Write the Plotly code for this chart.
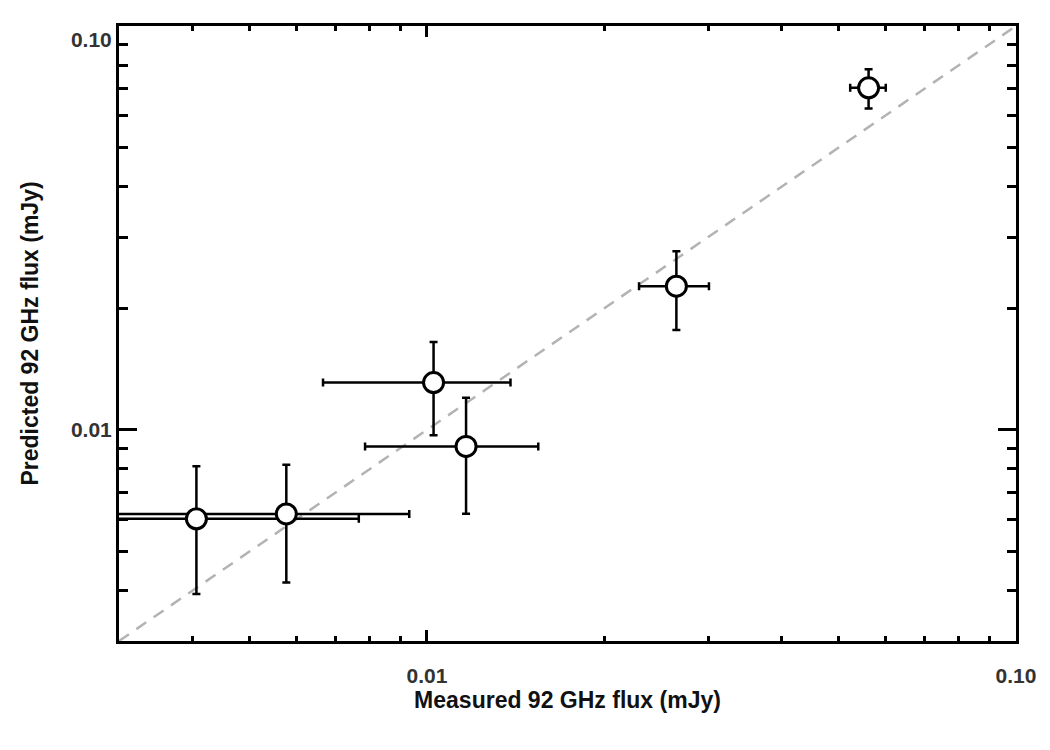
import plotly.graph_objects as go

measured = [0.00406, 0.00577, 0.01026, 0.01165, 0.02651, 0.0562]
measured_err = [0.0036, 0.00356, 0.0036, 0.0038, 0.0036, 0.0039]
predicted = [0.00602, 0.00619, 0.01309, 0.0091, 0.02268, 0.0703]
predicted_err = [0.0021, 0.002, 0.0034, 0.0029, 0.005, 0.0078]

axis_range = [0.003, 0.1]
major_vals = [0.01, 0.1]
x_major_text = ["0.01", "0.10"]
y_major_text = ["0.01", " <br>0.10"]
minor_vals = [0.003, 0.004, 0.005, 0.006, 0.007, 0.008, 0.009,
              0.02, 0.03, 0.04, 0.05, 0.06, 0.07, 0.08, 0.09]

fig = go.Figure()
fig.add_trace(go.Scatter(
    x=axis_range, y=axis_range, mode="lines",
    line=dict(color="#b3b3b3", width=2.5, dash="12px,9px"),
    showlegend=False, hoverinfo="skip"))
fig.add_trace(go.Scatter(
    x=measured, y=predicted, mode="markers",
    marker=dict(symbol="circle", size=20, color="white",
                line=dict(color="black", width=3)),
    error_x=dict(type="data", array=measured_err, color="black", thickness=2.5, width=4),
    error_y=dict(type="data", array=predicted_err, color="black", thickness=2.5, width=4),
    showlegend=False))

tickfont = dict(family="Liberation Sans", size=21, color="#333333", weight="bold")
titlefont = dict(family="Liberation Sans", size=23, color="#111111", weight="bold")

common = dict(type="log", showgrid=False, zeroline=False,
              showline=True, linecolor="black", linewidth=3, mirror="ticks",
              ticks="inside", tickwidth=3, tickcolor="black",
              tickvals=major_vals, tickfont=tickfont, automargin=False)

fig.update_xaxes(range=[-2.5229, -1.0], ticklen=11, ticktext=x_major_text,
                 ticklabelstandoff=14,
                 minor=dict(tickvals=minor_vals, ticks="inside", ticklen=5,
                            tickwidth=3, tickcolor="black", showgrid=False),
                 title=dict(text="Measured 92 GHz flux (mJy)", font=titlefont, standoff=4),
                 **common)
fig.update_yaxes(range=[-2.5229, -1.0], ticklen=18, ticktext=y_major_text,
                 minor=dict(tickvals=minor_vals, ticks="inside", ticklen=9,
                            tickwidth=3, tickcolor="black", showgrid=False),
                 title=dict(text="Predicted 92 GHz flux (mJy)", font=titlefont, standoff=26),
                 **common)

fig.update_layout(width=1050, height=750, plot_bgcolor="white", paper_bgcolor="white",
                  margin=dict(l=119, r=34, t=26, b=109))
fig.write_html("out.html")
